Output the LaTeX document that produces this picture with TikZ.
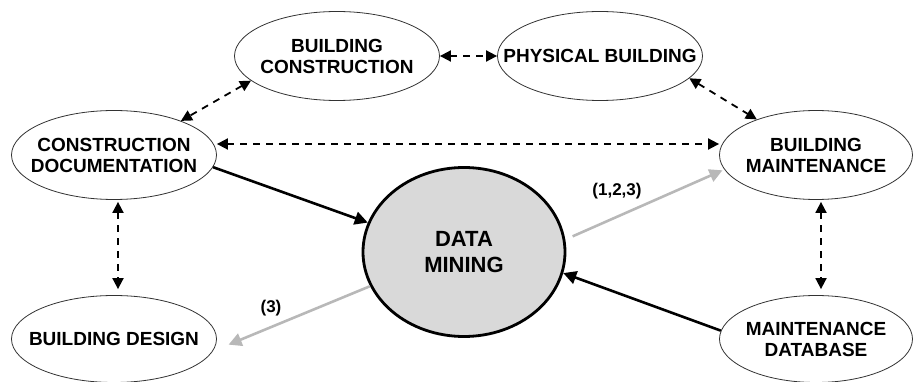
\documentclass[tikz,border=0pt]{standalone}
\usepackage{fontspec}
\setmainfont{Liberation Sans}
\usetikzlibrary{shapes.geometric,arrows.meta}
\newcommand\zb[1]{\makebox[0pt]{#1}}
\begin{document}
\begin{tikzpicture}[x=1pt,y=-1pt,
  ell/.style={ellipse,draw=black!80,line width=0.8pt,inner sep=0pt,align=center,
    font=\fontsize{19}{21}\selectfont\bfseries,minimum width=205pt,minimum height=89pt},
  dm/.style={ellipse,draw=black,line width=2.8pt,fill=black!15,inner sep=0pt,align=center,
    font=\fontsize{22}{26}\selectfont\bfseries,minimum width=202pt,minimum height=169pt},
  dash2/.style={line width=1.8pt,dash pattern=on 7pt off 6pt,{Triangle[length=11pt,width=11pt]}-{Triangle[length=11pt,width=11pt]}},
  blk/.style={line width=2.6pt,-{Triangle[length=13pt,width=13pt]}},
  gry/.style={line width=2.6pt,draw=black!28,-{Triangle[length=13pt,width=13pt]}},
  lab/.style={font=\fontsize{17}{19}\selectfont\bfseries,inner sep=0pt}]
\useasboundingbox (0,0) rectangle (914,382);
\node[ell] (BC) at (337,56) {\zb{BUILDING}\\\zb{CONSTRUCTION}};
\node[ell] (PB) at (600,56) {\zb{PHYSICAL BUILDING}};
\node[ell] (CD) at (114,155) {\zb{CONSTRUCTION}\\\zb{DOCUMENTATION}};
\node[ell,minimum width=193pt] (BM) at (816,155) {\zb{BUILDING}\\\zb{MAINTENANCE}};
\node[ell,minimum height=87pt] (BD) at (114,339) {\zb{BUILDING DESIGN}};
\node[ell,minimum width=193pt,minimum height=87pt] (MD) at (816,339) {\zb{MAINTENANCE}\\\zb{DATABASE}};
\node[dm] (DM) at (464,252) {\zb{DATA}\\\zb{MINING}};
\node[lab] (L1) at (617,191) {(1,2,3)};
\node[lab] (L2) at (271,308) {(3)};
% dashed bidirectional
\draw[dash2] (BC.east) -- (PB.west);
\draw[dash2] (BC.196) -- (CD.27);
\draw[dash2] (PB.-14) -- (BM.149);
\draw[dash2] ([yshift=11pt]CD.east) -- ([yshift=11pt]BM.west);
\draw[dash2,shorten <=2pt,shorten >=6pt] ([xshift=4pt]CD.south) -- ([xshift=4pt]BD.north);
\draw[dash2,shorten <=2pt,shorten >=6pt] ([xshift=5pt]BM.south) -- ([xshift=5pt]MD.north);
% solid arrows
\draw[blk] (CD.-7) -- (DM.163);
\draw[blk] (MD.175) -- (DM.-12);
\draw[gry,shorten <=8pt,shorten >=2pt] (DM.7) -- (BM.189);
\draw[gry,shorten >=17pt] (DM.200) -- (BD.-7);
\end{tikzpicture}
\end{document}
